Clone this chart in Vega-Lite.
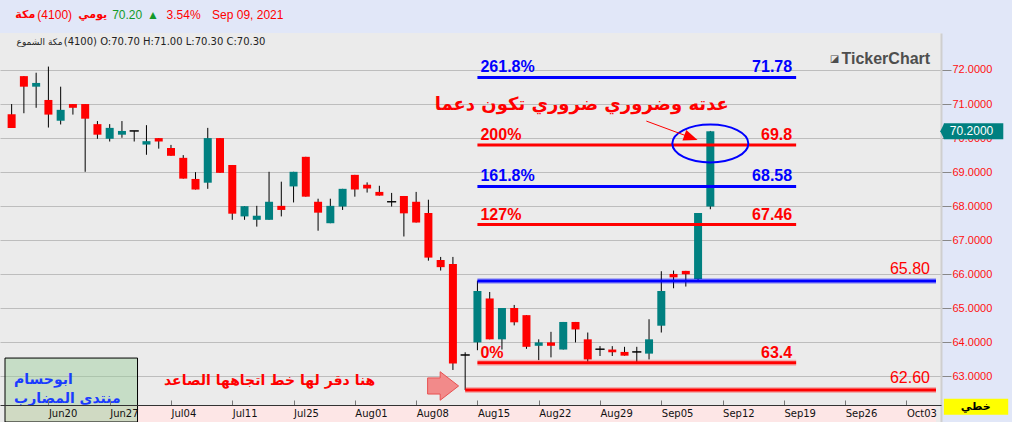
{
  "$schema": "https://vega.github.io/schema/vega-lite/v6.json",
  "width": 941,
  "height": 389,
  "autosize": {"type": "none"},
  "padding": {"left": 0, "top": 33, "right": 71, "bottom": 0},
  "background": "#E1E7F8",
  "view": {"fill": "#EBEBEB", "stroke": null},
  "config": {"font": "Liberation Sans, DejaVu Sans", "axis": {"labelOverlap": false}},
  "datasets": {
    "candles": [
      {"date": "2021-06-15", "day": 0, "open": 70.70, "high": 71.00, "low": 70.30, "close": 70.30},
      {"date": "2021-06-16", "day": 1, "open": 71.82, "high": 71.82, "low": 70.73, "close": 71.51},
      {"date": "2021-06-17", "day": 2, "open": 71.51, "high": 71.92, "low": 70.89, "close": 71.62},
      {"date": "2021-06-20", "day": 3, "open": 71.12, "high": 72.10, "low": 70.31, "close": 70.69},
      {"date": "2021-06-21", "day": 4, "open": 70.51, "high": 71.51, "low": 70.40, "close": 70.83},
      {"date": "2021-06-22", "day": 5, "open": 71.00, "high": 71.00, "low": 70.69, "close": 70.89},
      {"date": "2021-06-23", "day": 6, "open": 71.00, "high": 71.00, "low": 69.01, "close": 70.57},
      {"date": "2021-06-24", "day": 7, "open": 70.41, "high": 70.50, "low": 69.98, "close": 70.10},
      {"date": "2021-06-27", "day": 8, "open": 69.98, "high": 70.41, "low": 69.90, "close": 70.30},
      {"date": "2021-06-28", "day": 9, "open": 70.10, "high": 70.50, "low": 70.01, "close": 70.21},
      {"date": "2021-06-29", "day": 10, "open": 70.21, "high": 70.21, "low": 69.90, "close": 70.21},
      {"date": "2021-06-30", "day": 11, "open": 69.81, "high": 70.38, "low": 69.51, "close": 69.91},
      {"date": "2021-07-01", "day": 12, "open": 70.00, "high": 70.00, "low": 69.69, "close": 69.90},
      {"date": "2021-07-04", "day": 13, "open": 69.71, "high": 69.80, "low": 69.48, "close": 69.48},
      {"date": "2021-07-05", "day": 14, "open": 69.42, "high": 69.50, "low": 68.81, "close": 68.81},
      {"date": "2021-07-06", "day": 15, "open": 68.80, "high": 69.00, "low": 68.49, "close": 68.49},
      {"date": "2021-07-07", "day": 16, "open": 68.69, "high": 70.30, "low": 68.51, "close": 70.00},
      {"date": "2021-07-08", "day": 17, "open": 70.00, "high": 70.00, "low": 68.98, "close": 68.98},
      {"date": "2021-07-11", "day": 18, "open": 69.21, "high": 69.21, "low": 67.60, "close": 67.78},
      {"date": "2021-07-12", "day": 19, "open": 67.70, "high": 68.00, "low": 67.60, "close": 68.00},
      {"date": "2021-07-13", "day": 20, "open": 67.60, "high": 68.01, "low": 67.40, "close": 67.72},
      {"date": "2021-07-14", "day": 21, "open": 67.60, "high": 69.01, "low": 67.60, "close": 68.13},
      {"date": "2021-07-15", "day": 22, "open": 68.01, "high": 68.72, "low": 67.70, "close": 67.89},
      {"date": "2021-07-25", "day": 23, "open": 68.58, "high": 69.01, "low": 68.11, "close": 69.01},
      {"date": "2021-07-26", "day": 24, "open": 69.45, "high": 69.45, "low": 68.28, "close": 68.28},
      {"date": "2021-07-27", "day": 25, "open": 68.13, "high": 68.22, "low": 67.28, "close": 67.81},
      {"date": "2021-07-28", "day": 26, "open": 67.50, "high": 68.22, "low": 67.50, "close": 68.01},
      {"date": "2021-07-29", "day": 27, "open": 67.99, "high": 68.51, "low": 67.89, "close": 68.51},
      {"date": "2021-08-01", "day": 28, "open": 68.92, "high": 68.92, "low": 68.28, "close": 68.49},
      {"date": "2021-08-02", "day": 29, "open": 68.63, "high": 68.70, "low": 68.40, "close": 68.52},
      {"date": "2021-08-03", "day": 30, "open": 68.42, "high": 68.60, "low": 68.31, "close": 68.31},
      {"date": "2021-08-04", "day": 31, "open": 68.13, "high": 68.39, "low": 67.99, "close": 68.13},
      {"date": "2021-08-05", "day": 32, "open": 68.30, "high": 68.30, "low": 67.11, "close": 67.79},
      {"date": "2021-08-08", "day": 33, "open": 68.13, "high": 68.42, "low": 67.52, "close": 67.52},
      {"date": "2021-08-09", "day": 34, "open": 67.80, "high": 68.19, "low": 66.40, "close": 66.49},
      {"date": "2021-08-10", "day": 35, "open": 66.42, "high": 66.51, "low": 66.11, "close": 66.21},
      {"date": "2021-08-11", "day": 36, "open": 66.30, "high": 66.51, "low": 63.19, "close": 63.38},
      {"date": "2021-08-12", "day": 37, "open": 63.63, "high": 63.71, "low": 62.60, "close": 63.63},
      {"date": "2021-08-15", "day": 38, "open": 64.00, "high": 65.81, "low": 63.77, "close": 65.51},
      {"date": "2021-08-16", "day": 39, "open": 65.29, "high": 65.48, "low": 64.09, "close": 64.09},
      {"date": "2021-08-17", "day": 40, "open": 64.09, "high": 65.01, "low": 63.79, "close": 65.01},
      {"date": "2021-08-18", "day": 41, "open": 65.01, "high": 65.10, "low": 64.50, "close": 64.59},
      {"date": "2021-08-19", "day": 42, "open": 64.80, "high": 64.80, "low": 63.81, "close": 63.87},
      {"date": "2021-08-22", "day": 43, "open": 63.90, "high": 64.09, "low": 63.48, "close": 64.00},
      {"date": "2021-08-23", "day": 44, "open": 64.00, "high": 64.31, "low": 63.56, "close": 63.90},
      {"date": "2021-08-24", "day": 45, "open": 63.79, "high": 64.60, "low": 63.79, "close": 64.60},
      {"date": "2021-08-25", "day": 46, "open": 64.60, "high": 64.60, "low": 64.00, "close": 64.38},
      {"date": "2021-08-26", "day": 47, "open": 64.09, "high": 64.29, "low": 63.43, "close": 63.50},
      {"date": "2021-08-29", "day": 48, "open": 63.80, "high": 63.89, "low": 63.60, "close": 63.80},
      {"date": "2021-08-30", "day": 49, "open": 63.79, "high": 63.89, "low": 63.60, "close": 63.71},
      {"date": "2021-08-31", "day": 50, "open": 63.72, "high": 63.87, "low": 63.61, "close": 63.61},
      {"date": "2021-09-01", "day": 51, "open": 63.72, "high": 63.87, "low": 63.41, "close": 63.72},
      {"date": "2021-09-02", "day": 52, "open": 63.67, "high": 64.68, "low": 63.50, "close": 64.09},
      {"date": "2021-09-05", "day": 53, "open": 64.49, "high": 66.09, "low": 64.29, "close": 65.51},
      {"date": "2021-09-06", "day": 54, "open": 66.01, "high": 66.11, "low": 65.59, "close": 65.91},
      {"date": "2021-09-07", "day": 55, "open": 66.10, "high": 66.10, "low": 65.64, "close": 66.00},
      {"date": "2021-09-08", "day": 56, "open": 65.86, "high": 67.80, "low": 65.81, "close": 67.80},
      {"date": "2021-09-09", "day": 57, "open": 67.99, "high": 70.21, "low": 67.91, "close": 70.20}
    ],
    "levels": [
      {"level": "261.8%", "kind": "fib", "price": 71.78, "start": 38, "end": 64, "value": "71.78"},
      {"level": "200%", "kind": "fib", "price": 69.8, "start": 38, "end": 64, "value": "69.8"},
      {"level": "161.8%", "kind": "fib", "price": 68.58, "start": 38, "end": 64, "value": "68.58"},
      {"level": "127%", "kind": "fib", "price": 67.46, "start": 38, "end": 64, "value": "67.46"},
      {"level": "0%", "kind": "fib", "price": 63.4, "start": 38, "end": 64, "value": "63.4"},
      {"level": "65.80", "kind": "line", "price": 65.8, "start": 38, "end": 75.41, "value": "65.80"},
      {"level": "62.60", "kind": "line", "price": 62.6, "start": 37, "end": 75.41, "value": "62.60"}
    ]
  },
  "layer": [
    {
      "data": {"values": [{"from": -0.541, "to": 75.41, "bottom": 61.662, "top": 62.161}]},
      "mark": {"type": "rect", "color": "#FDE6E6"},
      "encoding": {
        "x": {"field": "from", "type": "quantitative", "scale": {"domain": [-0.541, 75.41], "nice": false, "zero": false},
          "axis": {"orient": "bottom", "offset": -17, "title": null, "grid": false, "zindex": 1,
            "values": [3, 8, 13, 18, 23, 28, 33, 38, 43, 48, 53, 58, 63, 68, 73],
            "labelExpr": "['Jun20','Jun27','Jul04','Jul11','Jul25','Aug01','Aug08','Aug15','Aug22','Aug29','Sep05','Sep12','Sep19','Sep26','Oct03'][(datum.value-3)/5]",
            "domainColor": "#333333", "domainWidth": 1, "tickColor": "#777777", "tickSize": -5, "tickWidth": 1,
            "labelAlign": "left", "labelBaseline": "middle", "labelPadding": 13, "labelFont": "DejaVu Sans", "labelFontSize": 10,
            "labelColor": "#111111", "labelOverlap": false, "labelFlush": false, "labelBound": false}},
        "x2": {"field": "to"},
        "y": {"field": "bottom", "type": "quantitative", "scale": {"domain": [61.662, 73.0866], "nice": false, "zero": false},
          "axis": {"orient": "right", "title": null, "grid": true,
            "values": [63, 64, 65, 66, 67, 68, 69, 70, 71, 72],
            "format": ".4f",
            "gridColor": "#BDBDBD", "gridWidth": 1,
            "domainColor": "#CFCFCF", "domainWidth": 2,
            "tickSize": 10, "tickWidth": 1, "tickColor": "#888888",
            "labelColor": "#FF1010", "labelFont": "Liberation Sans, DejaVu Sans", "labelFontSize": 11, "labelPadding": 1,
            "labelOverlap": false, "labelBound": false, "labelFlush": false}},
        "y2": {"field": "top"}
      }
    },
    {
      "data": {"values": [{"from": -0.541, "to": 10.27, "bottom": 61.662, "top": 63.54}]},
      "mark": {"type": "rect", "fill": "#9ACD9A", "fillOpacity": 0.45, "stroke": "#000000", "strokeWidth": 1},
      "encoding": {
        "x": {"field": "from", "type": "quantitative", "scale": {"domain": [-0.541, 75.41], "nice": false, "zero": false}},
        "x2": {"field": "to"},
        "y": {"field": "bottom", "type": "quantitative", "scale": {"domain": [61.662, 73.0866], "nice": false, "zero": false}},
        "y2": {"field": "top"}
      }
    },
    {
      "data": {"name": "candles"},
      "mark": {"type": "rule", "color": "#000000", "strokeWidth": 1},
      "encoding": {
        "x": {"field": "day", "type": "quantitative", "scale": {"domain": [-0.541, 75.41], "nice": false, "zero": false}},
        "y": {"field": "low", "type": "quantitative", "scale": {"domain": [61.662, 73.0866], "nice": false, "zero": false}},
        "y2": {"field": "high"}
      }
    },
    {
      "data": {"name": "candles"},
      "mark": {"type": "bar", "width": 8},
      "encoding": {
        "x": {"field": "day", "type": "quantitative", "scale": {"domain": [-0.541, 75.41], "nice": false, "zero": false}},
        "y": {"field": "open", "type": "quantitative", "scale": {"domain": [61.662, 73.0866], "nice": false, "zero": false}},
        "y2": {"field": "close"},
        "color": {"condition": {"test": "datum.close >= datum.open", "value": "#008080"}, "value": "#FF0000"}
      }
    },
    {
      "data": {"name": "candles"},
      "transform": [{"filter": "datum.open == datum.close"}],
      "mark": {"type": "bar", "width": 9, "fill": "#000000", "stroke": "#000000", "strokeWidth": 1},
      "encoding": {
        "x": {"field": "day", "type": "quantitative", "scale": {"domain": [-0.541, 75.41], "nice": false, "zero": false}},
        "y": {"field": "open", "type": "quantitative", "scale": {"domain": [61.662, 73.0866], "nice": false, "zero": false}},
        "y2": {"field": "close"}
      }
    },
    {
      "data": {"name": "levels"},
      "transform": [{"filter": "datum.level == '0%' || datum.kind == 'line'"}],
      "mark": {"type": "rule", "strokeWidth": 6, "opacity": 0.25},
      "encoding": {
        "x": {"field": "start", "type": "quantitative", "scale": {"domain": [-0.541, 75.41], "nice": false, "zero": false}},
        "x2": {"field": "end"},
        "y": {"field": "price", "type": "quantitative", "scale": {"domain": [61.662, 73.0866], "nice": false, "zero": false}},
        "color": {"field": "level", "type": "nominal", "legend": null,
          "scale": {"domain": ["261.8%", "200%", "161.8%", "127%", "0%", "65.80", "62.60"], "range": ["#0000FF", "#FF0000", "#0000FF", "#FF0000", "#FF0000", "#0000FF", "#FF0000"]}}
      }
    },
    {
      "data": {"name": "levels"},
      "mark": {"type": "rule", "strokeWidth": 3},
      "encoding": {
        "x": {"field": "start", "type": "quantitative", "scale": {"domain": [-0.541, 75.41], "nice": false, "zero": false}},
        "x2": {"field": "end"},
        "y": {"field": "price", "type": "quantitative", "scale": {"domain": [61.662, 73.0866], "nice": false, "zero": false}},
        "color": {"field": "level", "type": "nominal", "legend": null,
          "scale": {"domain": ["261.8%", "200%", "161.8%", "127%", "0%", "65.80", "62.60"], "range": ["#0000FF", "#FF0000", "#0000FF", "#FF0000", "#FF0000", "#0000FF", "#FF0000"]}}
      }
    },
    {
      "data": {"name": "levels"},
      "transform": [{"filter": "datum.kind == 'fib'"}],
      "mark": {"type": "text", "align": "left", "baseline": "alphabetic", "dx": 3, "dy": -5, "font": "Liberation Sans", "fontSize": 16, "fontWeight": "bold"},
      "encoding": {
        "x": {"field": "start", "type": "quantitative", "scale": {"domain": [-0.541, 75.41], "nice": false, "zero": false}},
        "y": {"field": "price", "type": "quantitative", "scale": {"domain": [61.662, 73.0866], "nice": false, "zero": false}},
        "text": {"field": "level"},
        "color": {"field": "level", "type": "nominal", "legend": null,
          "scale": {"domain": ["261.8%", "200%", "161.8%", "127%", "0%", "65.80", "62.60"], "range": ["#0000FF", "#FF0000", "#0000FF", "#FF0000", "#FF0000", "#0000FF", "#FF0000"]}}
      }
    },
    {
      "data": {"name": "levels"},
      "transform": [{"filter": "datum.kind == 'fib'"}],
      "mark": {"type": "text", "align": "right", "baseline": "alphabetic", "dx": -4, "dy": -5, "font": "Liberation Sans", "fontSize": 16, "fontWeight": "bold"},
      "encoding": {
        "x": {"field": "end", "type": "quantitative", "scale": {"domain": [-0.541, 75.41], "nice": false, "zero": false}},
        "y": {"field": "price", "type": "quantitative", "scale": {"domain": [61.662, 73.0866], "nice": false, "zero": false}},
        "text": {"field": "value"},
        "color": {"field": "level", "type": "nominal", "legend": null,
          "scale": {"domain": ["261.8%", "200%", "161.8%", "127%", "0%", "65.80", "62.60"], "range": ["#0000FF", "#FF0000", "#0000FF", "#FF0000", "#FF0000", "#0000FF", "#FF0000"]}}
      }
    },
    {
      "data": {"name": "levels"},
      "transform": [{"filter": "datum.kind == 'line'"}],
      "mark": {"type": "text", "align": "right", "baseline": "alphabetic", "dx": -6, "dy": -7, "font": "Liberation Sans", "fontSize": 16, "color": "#FF0000"},
      "encoding": {
        "x": {"field": "end", "type": "quantitative", "scale": {"domain": [-0.541, 75.41], "nice": false, "zero": false}},
        "y": {"field": "price", "type": "quantitative", "scale": {"domain": [61.662, 73.0866], "nice": false, "zero": false}},
        "text": {"field": "value"}
      }
    },
    {
      "data": {"values": [{"day": 57, "price": 69.84}]},
      "mark": {"type": "point", "shape": "M-1,0A1,0.5,0,1,1,1,0A1,0.5,0,1,1,-1,0Z", "size": 5776, "filled": false, "color": "#0000FF", "strokeWidth": 2, "opacity": 1},
      "encoding": {
        "x": {"field": "day", "type": "quantitative", "scale": {"domain": [-0.541, 75.41], "nice": false, "zero": false}},
        "y": {"field": "price", "type": "quantitative", "scale": {"domain": [61.662, 73.0866], "nice": false, "zero": false}}
      }
    },
    {
      "data": {"values": [{"day": 51.78, "price": 70.50, "day2": 55.42, "price2": 70.015}]},
      "mark": {"type": "rule", "color": "#FF0000", "strokeWidth": 1},
      "encoding": {
        "x": {"field": "day", "type": "quantitative", "scale": {"domain": [-0.541, 75.41], "nice": false, "zero": false}},
        "x2": {"field": "day2"},
        "y": {"field": "price", "type": "quantitative", "scale": {"domain": [61.662, 73.0866], "nice": false, "zero": false}},
        "y2": {"field": "price2"}
      }
    },
    {
      "data": {"values": [{"day": 55.42, "price": 70.015}]},
      "mark": {"type": "point", "shape": "M1,0L-1,-0.8L-1,0.8Z", "size": 196, "angle": 20, "filled": true, "color": "#FF0000", "opacity": 1},
      "encoding": {
        "x": {"field": "day", "type": "quantitative", "scale": {"domain": [-0.541, 75.41], "nice": false, "zero": false}},
        "y": {"field": "price", "type": "quantitative", "scale": {"domain": [61.662, 73.0866], "nice": false, "zero": false}}
      }
    },
    {
      "data": {"values": [{"day": 35.2, "price": 62.72}]},
      "mark": {"type": "point", "shape": "M-1,-0.52L-0.19,-0.52L-0.19,-0.92L1,0L-0.19,0.92L-0.19,0.52L-1,0.52Z", "size": 961, "filled": true, "fill": "#F28A8A", "stroke": "#E85050", "strokeWidth": 1, "opacity": 1},
      "encoding": {
        "x": {"field": "day", "type": "quantitative", "scale": {"domain": [-0.541, 75.41], "nice": false, "zero": false}},
        "y": {"field": "price", "type": "quantitative", "scale": {"domain": [61.662, 73.0866], "nice": false, "zero": false}}
      }
    },
    {
      "data": {"values": [{"day": 46.51, "price": 70.972, "text": "عدته وضروري ضروري تكون دعما"}]},
      "mark": {"type": "text", "align": "center", "baseline": "middle", "font": "DejaVu Sans", "fontSize": 18, "fontWeight": "bold", "color": "#FF0000"},
      "encoding": {
        "x": {"field": "day", "type": "quantitative", "scale": {"domain": [-0.541, 75.41], "nice": false, "zero": false}},
        "y": {"field": "price", "type": "quantitative", "scale": {"domain": [61.662, 73.0866], "nice": false, "zero": false}},
        "text": {"field": "text"}
      }
    },
    {
      "data": {"values": [{"day": 21.05, "price": 62.875, "text": "هنا دقر لها خط اتجاهها الصاعد"}]},
      "mark": {"type": "text", "align": "center", "baseline": "middle", "font": "DejaVu Sans", "fontSize": 14, "fontWeight": "bold", "color": "#FF0000"},
      "encoding": {
        "x": {"field": "day", "type": "quantitative", "scale": {"domain": [-0.541, 75.41], "nice": false, "zero": false}},
        "y": {"field": "price", "type": "quantitative", "scale": {"domain": [61.662, 73.0866], "nice": false, "zero": false}},
        "text": {"field": "text"}
      }
    },
    {
      "data": {"values": [
        {"day": 0.2, "price": 62.896, "text": "ابوحسام"},
        {"day": 0.2, "price": 62.33, "text": "منتدى المضارب"}
      ]},
      "mark": {"type": "text", "align": "left", "baseline": "middle", "font": "DejaVu Sans", "fontSize": 14, "fontWeight": "bold", "color": "#1A3CFF"},
      "encoding": {
        "x": {"field": "day", "type": "quantitative", "scale": {"domain": [-0.541, 75.41], "nice": false, "zero": false}},
        "y": {"field": "price", "type": "quantitative", "scale": {"domain": [61.662, 73.0866], "nice": false, "zero": false}},
        "text": {"field": "text"}
      }
    },
    {
      "data": {"values": [
        {"day": 0.30, "price": 73.615, "text": "مكة"},
        {"day": 5.43, "price": 73.615, "text": "يومي"}
      ]},
      "mark": {"type": "text", "align": "left", "baseline": "middle", "font": "DejaVu Sans", "fontSize": 11, "fontWeight": "bold", "color": "#FF0000"},
      "encoding": {
        "x": {"field": "day", "type": "quantitative", "scale": {"domain": [-0.541, 75.41], "nice": false, "zero": false}},
        "y": {"field": "price", "type": "quantitative", "scale": {"domain": [61.662, 73.0866], "nice": false, "zero": false}},
        "text": {"field": "text"}
      }
    },
    {
      "data": {"values": [
        {"day": 2.1, "price": 73.615, "text": "(4100)"},
        {"day": 12.64, "price": 73.615, "text": "3.54%"},
        {"day": 16.35, "price": 73.615, "text": "Sep 09, 2021"}
      ]},
      "mark": {"type": "text", "align": "left", "baseline": "middle", "font": "Liberation Sans", "fontSize": 12, "color": "#FF0000"},
      "encoding": {
        "x": {"field": "day", "type": "quantitative", "scale": {"domain": [-0.541, 75.41], "nice": false, "zero": false}},
        "y": {"field": "price", "type": "quantitative", "scale": {"domain": [61.662, 73.0866], "nice": false, "zero": false}},
        "text": {"field": "text"}
      }
    },
    {
      "data": {"values": [
        {"day": 8.20, "price": 73.615, "text": "70.20"},
        {"day": 11.05, "price": 73.615, "text": "▲"}
      ]},
      "mark": {"type": "text", "align": "left", "baseline": "middle", "font": "Liberation Sans, DejaVu Sans", "fontSize": 12, "color": "#139A2A"},
      "encoding": {
        "x": {"field": "day", "type": "quantitative", "scale": {"domain": [-0.541, 75.41], "nice": false, "zero": false}},
        "y": {"field": "price", "type": "quantitative", "scale": {"domain": [61.662, 73.0866], "nice": false, "zero": false}},
        "text": {"field": "text"}
      }
    },
    {
      "data": {"values": [{"day": 0.40, "price": 72.83, "text": "مكة الشموع"}]},
      "mark": {"type": "text", "align": "left", "baseline": "middle", "font": "DejaVu Sans", "fontSize": 9, "color": "#222222"},
      "encoding": {
        "x": {"field": "day", "type": "quantitative", "scale": {"domain": [-0.541, 75.41], "nice": false, "zero": false}},
        "y": {"field": "price", "type": "quantitative", "scale": {"domain": [61.662, 73.0866], "nice": false, "zero": false}},
        "text": {"field": "text"}
      }
    },
    {
      "data": {"values": [{"day": 4.25, "price": 72.83, "text": "(4100) O:70.70  H:71.00  L:70.30  C:70.30"}]},
      "mark": {"type": "text", "align": "left", "baseline": "middle", "font": "DejaVu Sans", "fontSize": 10, "color": "#222222"},
      "encoding": {
        "x": {"field": "day", "type": "quantitative", "scale": {"domain": [-0.541, 75.41], "nice": false, "zero": false}},
        "y": {"field": "price", "type": "quantitative", "scale": {"domain": [61.662, 73.0866], "nice": false, "zero": false}},
        "text": {"field": "text"}
      }
    },
    {
      "data": {"values": [{"day": 66.75, "price": 72.32, "text": "◪"}]},
      "mark": {"type": "text", "align": "left", "baseline": "middle", "font": "DejaVu Sans", "fontSize": 10, "color": "#4E4E4E"},
      "encoding": {
        "x": {"field": "day", "type": "quantitative", "scale": {"domain": [-0.541, 75.41], "nice": false, "zero": false}},
        "y": {"field": "price", "type": "quantitative", "scale": {"domain": [61.662, 73.0866], "nice": false, "zero": false}},
        "text": {"field": "text"}
      }
    },
    {
      "data": {"values": [{"day": 67.7, "price": 72.32, "text": "TickerChart"}]},
      "mark": {"type": "text", "align": "left", "baseline": "middle", "font": "Liberation Sans", "fontSize": 16, "fontWeight": "bold", "color": "#4E4E4E"},
      "encoding": {
        "x": {"field": "day", "type": "quantitative", "scale": {"domain": [-0.541, 75.41], "nice": false, "zero": false}},
        "y": {"field": "price", "type": "quantitative", "scale": {"domain": [61.662, 73.0866], "nice": false, "zero": false}},
        "text": {"field": "text"}
      }
    },
    {
      "data": {"values": [
        {"name": "last price", "from": 76.05, "to": 80.9, "bottom": 69.965, "top": 70.435},
        {"name": "chart type", "from": 76.05, "to": 81.3, "bottom": 61.877, "top": 62.347}
      ]},
      "mark": {"type": "rect"},
      "encoding": {
        "x": {"field": "from", "type": "quantitative", "scale": {"domain": [-0.541, 75.41], "nice": false, "zero": false}},
        "x2": {"field": "to"},
        "y": {"field": "bottom", "type": "quantitative", "scale": {"domain": [61.662, 73.0866], "nice": false, "zero": false}},
        "y2": {"field": "top"},
        "fill": {"field": "name", "type": "nominal", "legend": null, "scale": {"domain": ["last price", "chart type"], "range": ["#008080", "#FFFF00"]}}
      }
    },
    {
      "data": {"values": [{"day": 75.92, "price": 70.2}]},
      "mark": {"type": "point", "shape": "M0.25,-1L0.25,1L-0.25,0Z", "size": 256, "filled": true, "color": "#008080", "opacity": 1},
      "encoding": {
        "x": {"field": "day", "type": "quantitative", "scale": {"domain": [-0.541, 75.41], "nice": false, "zero": false}},
        "y": {"field": "price", "type": "quantitative", "scale": {"domain": [61.662, 73.0866], "nice": false, "zero": false}}
      }
    },
    {
      "data": {"values": [{"day": 76.54, "price": 70.2, "text": "70.2000"}]},
      "mark": {"type": "text", "align": "left", "baseline": "middle", "font": "Liberation Sans", "fontSize": 12, "color": "#FFFFFF"},
      "encoding": {
        "x": {"field": "day", "type": "quantitative", "scale": {"domain": [-0.541, 75.41], "nice": false, "zero": false}},
        "y": {"field": "price", "type": "quantitative", "scale": {"domain": [61.662, 73.0866], "nice": false, "zero": false}},
        "text": {"field": "text"}
      }
    },
    {
      "data": {"values": [{"day": 78.65, "price": 62.11, "text": "خطي"}]},
      "mark": {"type": "text", "align": "center", "baseline": "middle", "font": "DejaVu Sans", "fontSize": 11, "fontWeight": "bold", "color": "#000000"},
      "encoding": {
        "x": {"field": "day", "type": "quantitative", "scale": {"domain": [-0.541, 75.41], "nice": false, "zero": false}},
        "y": {"field": "price", "type": "quantitative", "scale": {"domain": [61.662, 73.0866], "nice": false, "zero": false}},
        "text": {"field": "text"}
      }
    }
  ]
}
